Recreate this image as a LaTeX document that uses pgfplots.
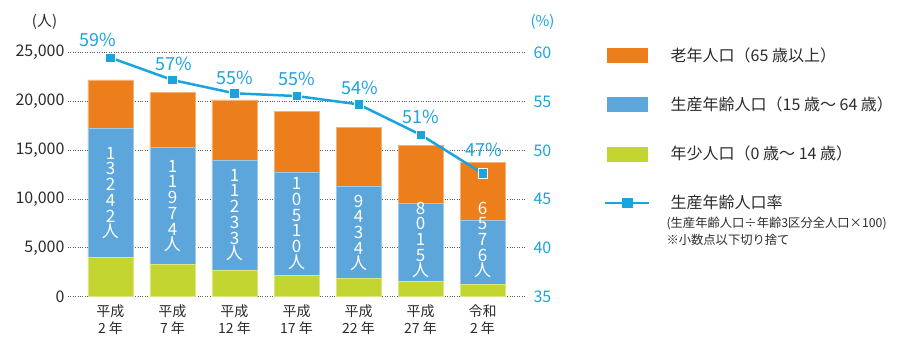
\documentclass[border=0pt]{standalone}
\usepackage{fontspec}
\setmainfont{Noto Sans CJK JP}
\usepackage{pgfplots}
\usepackage{pgfplotstable}
\pgfplotsset{compat=1.18}
\definecolor{oldc}{HTML}{EC7F1C}
\definecolor{workc}{HTML}{5DA6DC}
\definecolor{youngc}{HTML}{C3D531}
\definecolor{linec}{HTML}{1AA4DE}
\definecolor{txt}{HTML}{2B2B2B}
\tikzset{vt/.style={align=center, text=white, font=\fontsize{17}{15.7}\selectfont}}

\pgfplotstableread{
x young work old
0 3996 13242 4965
1 3350 11974 5620
2 2736 11233 6185
3 2223 10510 6222
4 1844 9434 6038
5 1537 8015 5990
6 1300 6576 5925
}\popdata

\pgfplotstableread{
x rate lab dx dy
0 59.49 59 -12.5 17.4
1 57.2 57 1 16.3
2 55.84 55 0.5 15
3 55.56 55 0 17
4 54.71 54 1 16
5 51.6 51 0 17.7
6 47.64 47 1 23
}\ratedata

\begin{document}
\begin{tikzpicture}
\useasboundingbox (0pt,0pt) rectangle (900pt,341pt);
\pgfplotsset{base/.style={scale only axis, width=457pt, height=244pt,
  at={(68pt,44.3pt)}, anchor=south west, xmin=-0.685, xmax=6.685,
  clip=false, axis line style={draw=none}, major tick length=0pt,
  /pgf/number format/assume math mode=true}}
\begin{axis}[base, ymin=0, ymax=25000,
  ytick={0,5000,10000,15000,20000,25000}, scaled y ticks=false,
  /pgf/number format/1000 sep={,},
  yticklabel style={font=\fontsize{16}{16}\selectfont, text=txt},
  ymajorgrids, grid style={dotted, line width=0.9pt, black!65},
  xtick={0,...,6},
  xticklabels={{平成\\2 年},{平成\\7 年},{平成\\12 年},{平成\\17 年},{平成\\22 年},{平成\\27 年},{令和\\2 年}},
  xticklabel style={align=center, font=\fontsize{14}{17}\selectfont, text=txt, yshift=-5pt},
  ybar stacked, bar width=45pt]
\addplot[fill=youngc, draw=youngc!60!white, line width=0.5pt] table[x=x,y=young]{\popdata};
\addplot[fill=workc, draw=workc!60!white, line width=0.5pt] table[x=x,y=work]{\popdata};
\addplot[fill=oldc, draw=oldc!60!white, line width=0.5pt] table[x=x,y=old]{\popdata};
\end{axis}
\begin{axis}[base, ymin=35, ymax=60, ytick={35,40,45,50,55,60},
  axis y line*=right, axis x line=none,
  yticklabel style={font=\fontsize{16}{16}\selectfont, text=linec, xshift=5pt},
  legend cell align=left,
  legend style={at={(1.1729,1.025)}, anchor=north west, draw=none, fill=none,
    font=\fontsize{16}{18}\selectfont, text=txt, row sep=32pt,
    inner sep=0pt, nodes={inner sep=1pt},
    /tikz/every odd column/.append style={column sep=19pt}}]
\addlegendimage{legend image code/.code={\fill[oldc] (0pt,-7pt) rectangle (40pt,7pt);}}
\addlegendentry{老年人口（65 歳以上）}
\addlegendimage{legend image code/.code={\fill[workc] (0pt,-7pt) rectangle (40pt,7pt);}}
\addlegendentry{生産年齢人口（15 歳～ 64 歳）}
\addlegendimage{legend image code/.code={\fill[youngc] (0pt,-7pt) rectangle (40pt,7pt);}}
\addlegendentry{年少人口（0 歳～ 14 歳）}
% vertical labels (y in this axis = 35 + people/1000)
\node[vt] at (axis cs:0,45.625) {1\\3\\2\\4\\2\\人};
\node[vt] at (axis cs:1,44.293) {1\\1\\9\\7\\4\\人};
\node[vt] at (axis cs:2,43.371) {1\\1\\2\\3\\3\\人};
\node[vt] at (axis cs:3,42.500) {1\\0\\5\\1\\0\\人};
\node[vt] at (axis cs:4,41.527) {9\\4\\3\\4\\人};
\node[vt] at (axis cs:5,40.809) {8\\0\\1\\5\\人};
\node[vt] at (axis cs:6,40.809) {6\\5\\7\\6\\人};
\addplot[linec, line width=2.5pt, mark=square*, mark size=4.7pt,
  mark options={solid, fill=linec, draw=white, line width=0.6pt},
  nodes near coords={\pgfmathprintnumber{\pgfplotspointmeta}\%},
  point meta=explicit,
  visualization depends on={\thisrow{dx}\as\dx},
  visualization depends on={\thisrow{dy}\as\dy},
  every node near coord/.append style={anchor=center, xshift=\dx pt, yshift=\dy pt,
    font=\fontsize{18}{18}\selectfont, text=linec},
  legend image code/.code={\draw[linec, line width=2.5pt] (-2pt,0pt) -- (42pt,0pt);
    \fill[linec] (15.5pt,-4pt) rectangle (24.5pt,4pt);}]
  table[x=x, y=rate, meta=lab]{\ratedata};
\addlegendentry{生産年齢人口率}
\end{axis}
\node[text=txt, font=\fontsize{15}{15}\selectfont] at (44.5pt,319pt) {(人)};
\node[text=linec, font=\fontsize{15}{15}\selectfont] at (542.5pt,319pt) {(\%)};
\node[anchor=west, align=left, text=txt, font=\fontsize{12.3}{17}\selectfont] at (663pt,109.5pt)
  {(生産年齢人口÷年齢3区分全人口×100)\\※小数点以下切り捨て};
\end{tikzpicture}
\end{document}
